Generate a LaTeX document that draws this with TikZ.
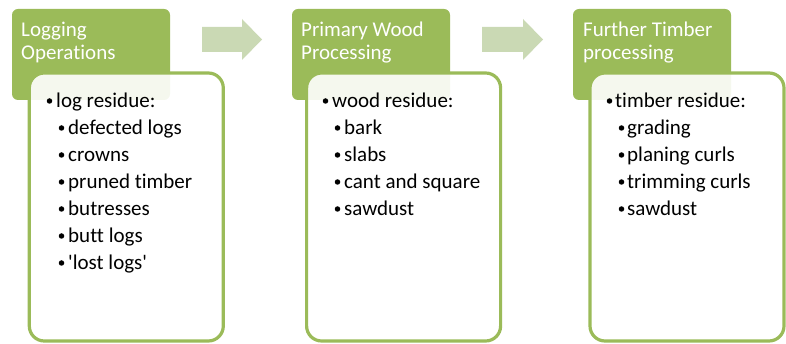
\documentclass[tikz,border=0pt]{standalone}
\usepackage{fontspec}
\setmainfont{Carlito}[Ligatures=NoCommon]
\definecolor{hdr}{RGB}{155,187,89}
\definecolor{arr}{RGB}{202,217,180}
\tikzset{
  hdrbox/.style={fill=hdr, rounded corners=6pt, anchor=north west, minimum width=158pt, minimum height=91pt, inner sep=0pt, outer sep=0pt},
  bodybox/.style={draw=hdr, line width=3.2pt, fill=white, fill opacity=0.9, rounded corners=15pt, anchor=north west, minimum width=194pt, minimum height=268pt, inner sep=0pt, outer sep=0pt},
  htext/.style={anchor=base west, inner sep=0pt, text=white, font=\fontsize{21}{25}\selectfont},
  btext/.style={anchor=base west, inner sep=0pt, font=\fontsize{21}{25}\selectfont},
  dot/.style={circle, fill=black, inner sep=0pt, minimum size=5.5pt},
  arrowshape/.style={fill=arr}
}
\begin{document}
\begin{tikzpicture}[x=1pt,y=-1pt]
\useasboundingbox (0,0) rectangle (786,344);
% headers
\node[hdrbox] (h1) at (12,9) {};
\node[hdrbox] (h2) at (292,9) {};
\node[hdrbox] (h3) at (573,9) {};
% body boxes
\node[bodybox] (w1) at (29.3,73) {};
\node[bodybox] (w2) at (306.6,73) {};
\node[bodybox] (w3) at (590,73) {};
% arrows
\path[arrowshape] (202,27) -- (242,27) -- (242,19) -- (262,39.5) -- (242,60) -- (242,52) -- (202,52) -- cycle;
\path[arrowshape] (482,27) -- (523,27) -- (523,19) -- (543,39.5) -- (523,60) -- (523,52) -- (482,52) -- cycle;
% header texts
\node[htext] (t1a) at (21,36.5) {Logging};
\node[htext] (t1b) at (21,59.5) {Operations};
\node[htext] (t2a) at (301,36.5) {Primary Wood};
\node[htext] (t2b) at (301,59.5) {Processing};
\node[htext] (t3a) at (583,36.5) {Further Timber};
\node[htext] (t3b) at (583,59.5) {processing};
% box 1
\node[dot] (d1a) at (49.5,101) {};
\node[btext] (l1a) at (56,107.3) {log residue:};
\node[dot] (d1b) at (61.5,128) {};
\node[btext] (l1b) at (68,134.3) {defected logs};
\node[dot] (d1c) at (61.5,155) {};
\node[btext] (l1c) at (68,161.3) {crowns};
\node[dot] (d1d) at (61.5,182) {};
\node[btext] (l1d) at (68,188.3) {pruned timber};
\node[dot] (d1e) at (61.5,209) {};
\node[btext] (l1e) at (68,215.3) {butresses};
\node[dot] (d1f) at (61.5,236) {};
\node[btext] (l1f) at (68,242.3) {butt logs};
\node[dot] (d1g) at (61.5,263) {};
\node[btext] (l1g) at (68,269.3) {\textquotesingle lost logs\textquotesingle};
% box 2
\node[dot] (d2a) at (325.5,101) {};
\node[btext] (l2a) at (332,107.3) {wood residue:};
\node[dot] (d2b) at (337.5,128) {};
\node[btext] (l2b) at (344,134.3) {bark};
\node[dot] (d2c) at (337.5,155) {};
\node[btext] (l2c) at (344,161.3) {slabs};
\node[dot] (d2d) at (337.5,182) {};
\node[btext] (l2d) at (344,188.3) {cant and square};
\node[dot] (d2e) at (337.5,209) {};
\node[btext] (l2e) at (344,215.3) {sawdust};
% box 3
\node[dot] (d3a) at (609.5,101) {};
\node[btext] (l3a) at (615,107.3) {timber residue:};
\node[dot] (d3b) at (621.5,128) {};
\node[btext] (l3b) at (627,134.3) {grading};
\node[dot] (d3c) at (621.5,155) {};
\node[btext] (l3c) at (627,161.3) {planing curls};
\node[dot] (d3d) at (621.5,182) {};
\node[btext] (l3d) at (627,188.3) {trimming curls};
\node[dot] (d3e) at (621.5,209) {};
\node[btext] (l3e) at (627,215.3) {sawdust};
\end{tikzpicture}
\end{document}
